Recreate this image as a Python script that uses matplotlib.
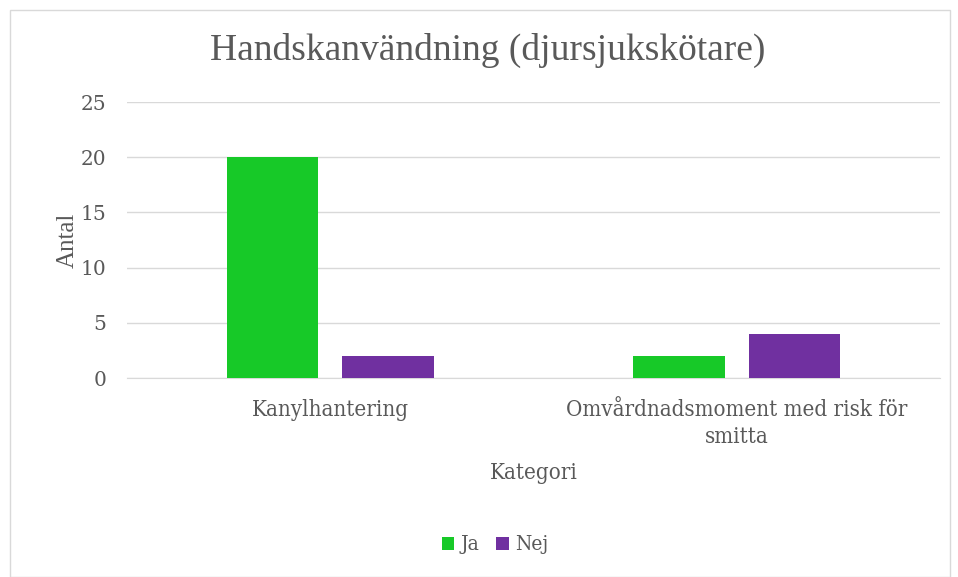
import matplotlib
matplotlib.use("Agg")
import matplotlib.pyplot as plt
from matplotlib.patches import Rectangle
import numpy as np

categories = ["Kanylhantering", "Omvårdnadsmoment med risk för\nsmitta"]
series_names = ["Ja", "Nej"]
ja_values = [20, 2]
nej_values = [2, 4]
yticks = [0, 5, 10, 15, 20, 25]

green = "#17C928"
purple = "#7030A0"
text_col = "#595959"
grid_col = "#D9D9D9"

fig = plt.figure(figsize=(9.58, 5.77), dpi=100)
fig.patches.append(Rectangle((10/958, 0), 940/958, 567/577, transform=fig.transFigure,
                             fill=False, edgecolor="#D9D9D9", linewidth=1.0))

ax = fig.add_axes([127/958, 1 - 378/577, 813/958, 276/577])
x = np.arange(len(categories))
w = 0.224
off = 0.142
ax.bar(x - off, ja_values, w, color=green, label=series_names[0], zorder=3)
ax.bar(x + off, nej_values, w, color=purple, label=series_names[1], zorder=3)

ax.set_xlim(-0.5, 1.5)
ax.set_ylim(0, 25)
ax.set_yticks(yticks)
ax.yaxis.grid(True, color=grid_col, linewidth=1.0, zorder=0)
for s in ["top", "right", "left"]:
    ax.spines[s].set_visible(False)
ax.spines["bottom"].set_color(grid_col)
ax.tick_params(axis="both", length=0)
ax.tick_params(axis="y", pad=15, labelsize=14.5, labelcolor=text_col)
ax.set_xticks(x)
ax.set_xticklabels(categories, fontsize=16, color=text_col, family="DejaVu Serif",
                   fontstretch="condensed", linespacing=1.3)
ax.tick_params(axis="x", pad=15)
for lab in ax.get_yticklabels():
    lab.set_family("DejaVu Serif")

ax.set_ylabel("Antal", fontsize=18, color=text_col, family="Liberation Serif", labelpad=1)
ax.set_xlabel("Kategori", fontsize=16, color=text_col, family="DejaVu Serif",
              fontstretch="condensed", labelpad=10)

fig.text(488/958, 1 - 50/577, "Handskanvändning (djursjukskötare)", ha="center", va="center",
         fontsize=27, color=text_col, family="Liberation Serif")

leg = fig.legend(loc="center", bbox_to_anchor=(495/958, 1 - 545/577), ncol=2, frameon=False,
                 prop={"family": "DejaVu Serif", "size": 15, "stretch": "condensed"},
                 handlelength=0.6, handleheight=0.6,
                 handletextpad=0.3, columnspacing=0.8)
for t in leg.get_texts():
    t.set_color(text_col)

fig.savefig("out.png", dpi=100)
